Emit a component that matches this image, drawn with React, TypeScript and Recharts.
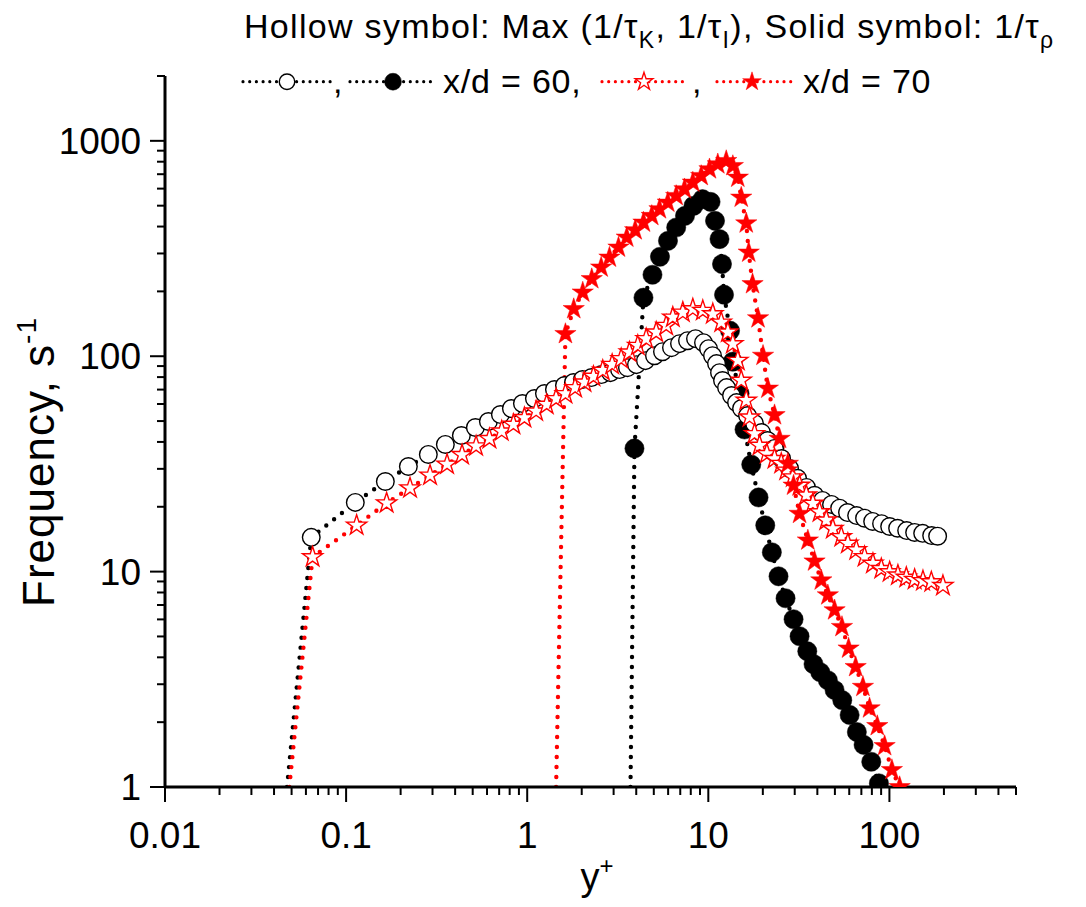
import React from 'react';
import { LineChart, Line, XAxis, YAxis } from 'recharts';

// ---- Data (y+ and frequency, s^-1) ----
// x/d = 60, hollow circles: Max(1/tauK, 1/tauI)
const x60MaxX = [0.0472, 0.0642, 0.1124, 0.1647, 0.2207, 0.2845, 0.3532, 0.433, 0.5174, 0.6105, 0.7112, 0.818, 0.941,
  1.096, 1.245, 1.414, 1.606, 1.8, 2.018, 2.263, 2.57, 2.883,
  3.232, 3.578, 4.012, 4.498, 5.045, 5.585, 6.262, 6.934, 7.676, 8.498, 9.408,
  10.03, 10.55, 11.1, 11.53, 11.98, 12.61, 13.43, 14.32, 15.26, 16.47, 18.0, 19.68,
  21.24, 23.21, 25.38, 28.1, 31.11, 34.86, 38.6, 42.7, 47.9, 53.1, 58.7, 65.9, 72.9, 80.8, 90.5,
  100.3, 111.0, 124.5, 137.8, 152.6, 171.1, 184.6];
const x60MaxY = [1, 14.42, 20.96, 26.21, 30.77, 34.99, 38.93, 42.85, 46.67, 49.76, 53.61, 57.17, 60.3,
  63.6, 67.07, 70.0, 73.07, 75.45, 77.9, 79.6, 82.2, 83.9,
  86.7, 88.5, 91.4, 95.4, 100.6, 105.0, 109.6, 114.4, 118.1, 120.7, 115.6,
  108.4, 100.6, 92.4, 83.9, 77.1, 71.5, 65.7, 60.9, 57.2, 53.0, 48.7, 44.2,
  40.6, 37.3, 33.5, 30.1, 27.1, 24.6, 22.6, 21.4, 20.5, 19.7, 18.8, 18.2, 17.7, 17.1, 16.7,
  16.2, 15.9, 15.5, 15.2, 15.05, 14.7, 14.6];

// x/d = 60, solid circles: 1/tau_rho
const x60RhoX = [3.718, 3.911, 4.385, 4.917, 5.409, 5.989, 6.648, 7.435, 8.284, 9.29,
  10.29, 10.89, 11.53, 11.9, 12.21, 13.18, 13.66, 14.88, 15.85, 17.26,
  18.94, 20.63, 22.43, 24.42, 26.7, 29.56, 31.91, 35.2, 38.1, 41.5,
  45.7, 49.8, 54.9, 60.3, 66.1, 72.0, 79.4, 87.5];
const x60RhoY = [1, 37.3, 187.0, 238.9, 289.6, 343.5, 395.9, 448.6, 499.1, 536.0,
  520.8, 425.3, 349.8, 267.9, 193.0, 131.4, 94.4, 67.1, 45.7, 31.4,
  22.1, 16.4, 12.29, 9.51, 7.52, 6.01, 5.01, 4.27, 3.72, 3.41,
  3.13, 2.82, 2.53, 2.16, 1.8, 1.57, 1.31, 1.04];

// x/d = 70, hollow stars: Max(1/tauK, 1/tauI)
const x70MaxX = [0.0486, 0.0653, 0.1143, 0.1674, 0.2254, 0.2907, 0.361, 0.4368, 0.5221, 0.6184, 0.7229, 0.8389, 0.9649,
  1.12, 1.281, 1.444, 1.626, 1.839, 2.07, 2.321, 2.613, 2.944,
  3.303, 3.67, 4.079, 4.539, 5.155, 5.854, 6.367, 7.231, 8.212, 9.325,
  10.59, 11.79, 12.82, 13.66, 14.55, 15.2, 16.2, 16.89, 18.0, 19.18,
  21.05, 23.21, 25.28, 26.94, 29.31, 31.91, 34.74, 37.79, 41.16, 44.82, 48.73, 54.25, 58.97, 65.64, 72.9, 81.1, 90.2,
  100.3, 111.4, 124.0, 137.8, 153.2, 170.4, 197.5];
const x70MaxY = [1, 11.69, 16.39, 20.8, 24.41, 27.96, 31.45, 34.87, 38.22, 41.37, 44.86, 48.18, 51.76,
  55.54, 59.66, 63.39, 66.86, 71.29, 75.68, 80.43, 85.77, 91.41,
  97.16, 104.3, 112.0, 120.3, 129.1, 138.7, 151.5, 159.7, 165.7, 162.7,
  157.1, 143.6, 129.1, 114.0, 95.4, 77.1, 62.3, 52.1, 43.6, 38.5,
  35.25, 33.4, 31.7, 29.5, 27.45, 25.1, 22.6, 20.7, 18.9, 17.3, 15.8, 14.5, 13.5, 12.6, 11.7, 10.9, 10.3,
  9.96, 9.61, 9.38, 9.18, 9.05, 8.95, 8.6];

// x/d = 70, solid stars: 1/tau_rho
const x70RhoX = [1.444, 1.626, 1.807, 2.026, 2.272, 2.561, 2.845, 3.191, 3.546, 3.946,
  4.385, 4.873, 5.375, 5.974, 6.648, 7.387, 8.212, 9.138, 10.15, 11.28,
  12.56, 13.66, 14.55, 15.2, 16.2, 16.72, 17.55, 18.82, 20.05, 21.32,
  23.21, 24.74, 27.5, 29.56, 31.91, 35.45, 38.6, 42.05, 45.7, 49.8,
  54.7, 59.5, 65.1, 71.4, 77.7, 85.7, 94.1, 103.2, 113.9];
const x70RhoY = [1, 126.9, 165.7, 197.8, 228.2, 258.4, 287.3, 319.8, 355.8, 385.0,
  417.7, 448.6, 481.8, 517.0, 555.3, 596.4, 640.3, 687.7, 738.6, 778.9,
  806.7, 764.8, 675.3, 545.4, 414.1, 303.1, 216.3, 150.2, 100.6, 70.8,
  53.3, 41.4, 31.7, 25.1, 18.57, 13.97, 11.16, 9.11, 7.77, 6.62,
  5.54, 4.4, 3.61, 2.92, 2.32, 1.92, 1.55, 1.2, 1.0];

// ---- Ticks ----
const xMajorTicks = [0.01, 0.1, 1, 10, 100];
const xTickLabels = ['0.01', '0.1', '1', '10', '100'];
const xMinorTicks = [0.02, 0.03, 0.04, 0.05, 0.06, 0.07, 0.08, 0.09,
  0.2, 0.3, 0.4, 0.5, 0.6, 0.7, 0.8, 0.9,
  2, 3, 4, 5, 6, 7, 8, 9,
  20, 30, 40, 50, 60, 70, 80, 90,
  200, 300, 400, 500];
const yMajorTicks = [1, 10, 100, 1000];
const yTickLabels = ['1', '10', '100', '1000'];
const yMinorTicks = [2, 3, 4, 5, 6, 7, 8, 9,
  20, 30, 40, 50, 60, 70, 80, 90,
  200, 300, 400, 500, 600, 700, 800, 900, 2000];

const xDomain = [0.01, 500];
const yDomain = [1, 2000];

const zip = (xs: number[], ys: number[]) => xs.map((x, i) => ({ x, v: ys[i] }));
const d60Max = zip(x60MaxX, x60MaxY);
const d60Rho = zip(x60RhoX, x60RhoY);
const d70Max = zip(x70MaxX, x70MaxY);
const d70Rho = zip(x70RhoX, x70RhoY);

const FONT = '"Liberation Sans", Arial, Helvetica, sans-serif';
const RED = '#ff0000';

const starPath = (cx: number, cy: number, R: number) => {
  const r = R * 0.382;
  let d = '';
  for (let i = 0; i < 10; i++) {
    const rad = i % 2 === 0 ? R : r;
    const a = -Math.PI / 2 + (i * Math.PI) / 5;
    const px = cx + rad * Math.cos(a);
    const py = cy + rad * Math.sin(a);
    d += (i === 0 ? 'M' : 'L') + px.toFixed(2) + ',' + py.toFixed(2);
  }
  return d + 'Z';
};

type Kind = 'hc' | 'sc' | 'hs' | 'ss';

const Marker = ({ kind, cx, cy, scale = 1 }: { kind: Kind; cx: number; cy: number; scale?: number }) => {
  if (kind === 'hc') return <circle cx={cx} cy={cy} r={8.8 * scale} fill="#fff" stroke="#000" strokeWidth={1.4} />;
  if (kind === 'sc') return <circle cx={cx} cy={cy} r={9.6 * scale} fill="#000" stroke="#000" strokeWidth={0.5} />;
  if (kind === 'hs') return <path d={starPath(cx, cy, 10.6 * scale)} fill="#fff" stroke={RED} strokeWidth={1.4} strokeLinejoin="miter" />;
  return <path d={starPath(cx, cy, 11.2 * scale)} fill={RED} stroke={RED} strokeWidth={0.5} />;
};

const makeDot = (kind: Kind) => (props: any) => {
  const { cx, cy, index } = props;
  if (index === 0 || cx == null || cy == null) return <g key={`${kind}-${index}`} />;
  return <g key={`${kind}-${index}`}><Marker kind={kind} cx={cx} cy={cy} /></g>;
};

const XTick = (props: any) => {
  const { x, y, payload } = props;
  const i = xMajorTicks.indexOf(payload.value);
  const major = i >= 0;
  return (
    <g>
      <line x1={x} y1={y} x2={x} y2={y + (major ? 15 : 8)} stroke="#000" strokeWidth={2} />
      {major && (
        <text x={x} y={y + 61} textAnchor="middle" fontSize={37} fontFamily={FONT} fill="#000">
          {xTickLabels[i]}
        </text>
      )}
    </g>
  );
};

const YTick = (props: any) => {
  const { x, y, payload } = props;
  const i = yMajorTicks.indexOf(payload.value);
  const major = i >= 0;
  return (
    <g>
      <line x1={x} y1={y} x2={x - (major ? 15 : 8)} y2={y} stroke="#000" strokeWidth={2} />
      {major && (
        <text x={x - 24} y={y + 13} textAnchor="end" fontSize={37} fontFamily={FONT} fill="#000">
          {yTickLabels[i]}
        </text>
      )}
    </g>
  );
};

const W = 1070;
const H = 891;

const dotted = (color: string, w: number, gap: number) => ({
  stroke: color,
  strokeWidth: w,
  strokeDasharray: `0 ${gap}`,
  strokeLinecap: 'round' as const,
});

const LegendItem = ({ x1, x2, cx, cy, kind, color }: { x1: number; x2: number; cx: number; cy: number; kind: Kind; color: string }) => (
  <g>
    <line x1={x1} y1={cy} x2={x2} y2={cy} {...dotted(color, 3.2, 6.7)} />
    <Marker kind={kind} cx={cx} cy={cy} scale={0.88} />
  </g>
);

export default function App() {
  const ticksX = [...xMajorTicks, ...xMinorTicks].sort((a, b) => a - b);
  const ticksY = [...yMajorTicks, ...yMinorTicks].sort((a, b) => a - b);
  return (
    <div style={{ position: 'relative', width: W, height: H, background: '#fff' }}>
      <LineChart width={W} height={H} margin={{ top: 68, right: 62, bottom: 52, left: 97 }}>
        <XAxis
          dataKey="x"
          type="number"
          scale="log"
          domain={xDomain}
          allowDataOverflow
          ticks={ticksX}
          interval={0}
          tickSize={0}
          tickMargin={0}
          tickLine={false}
          tick={<XTick />}
          height={60}
          axisLine={{ stroke: '#000', strokeWidth: 3 }}
        />
        <YAxis
          type="number"
          scale="log"
          domain={yDomain}
          allowDataOverflow
          ticks={ticksY}
          interval={0}
          tickSize={0}
          tickMargin={0}
          tickLine={false}
          tick={<YTick />}
          width={60}
          axisLine={{ stroke: '#000', strokeWidth: 3 }}
        />
        <Line data={d60Rho} dataKey="v" type="linear" isAnimationActive={false} {...dotted('#000', 4.4, 10)} dot={makeDot('sc')} activeDot={false} />
        <Line data={d60Max} dataKey="v" type="linear" isAnimationActive={false} {...dotted('#000', 4.4, 10)} dot={makeDot('hc')} activeDot={false} />
        <Line data={d70Max} dataKey="v" type="linear" isAnimationActive={false} {...dotted(RED, 4.4, 10)} dot={makeDot('hs')} activeDot={false} />
        <Line data={d70Rho} dataKey="v" type="linear" isAnimationActive={false} {...dotted(RED, 4.4, 10)} dot={makeDot('ss')} activeDot={false} />
      </LineChart>
      <svg width={W} height={H} style={{ position: 'absolute', left: 0, top: 0, pointerEvents: 'none' }}>
        <text x={236} y={30} fontSize={34} letterSpacing={1.3} fontFamily={FONT} fill="#000">
          Hollow symbol: Max (1/τ
          <tspan fontSize={23} dy={10}>K</tspan>
          <tspan dy={-10}>, 1/τ</tspan>
          <tspan fontSize={23} dy={10}>I</tspan>
          <tspan dy={-10}>), Solid symbol: 1/τ</tspan>
          <tspan fontSize={23} dy={10}>ρ</tspan>
        </text>
        <LegendItem x1={235} x2={323} cx={279} cy={73.7} kind="hc" color="#000" />
        <text x={325} y={85.3} fontSize={34} fontFamily={FONT}>,</text>
        <LegendItem x1={342} x2={425} cx={385} cy={73.7} kind="sc" color="#000" />
        <text x={435} y={85.3} fontSize={34} letterSpacing={0.8} fontFamily={FONT}>x/d = 60,</text>
        <LegendItem x1={594} x2={678} cx={636} cy={73.7} kind="hs" color={RED} />
        <text x={684} y={85.3} fontSize={34} fontFamily={FONT}>,</text>
        <LegendItem x1={709} x2={785} cx={744} cy={73.7} kind="ss" color={RED} />
        <text x={795} y={85.3} fontSize={34} letterSpacing={0.8} fontFamily={FONT}>x/d = 70</text>
        <text
          x={46}
          y={454}
          transform="rotate(-90 46 454)"
          textAnchor="middle"
          fontSize={44}
          letterSpacing={1}
          fontFamily={FONT}
          fill="#000"
        >
          Frequency, s<tspan fontSize={28} dy={-18}>-1</tspan>
        </text>
        <text x={589} y={882} textAnchor="middle" fontSize={38} fontFamily={FONT} fill="#000">
          y<tspan fontSize={24} dy={-16}>+</tspan>
        </text>
      </svg>
    </div>
  );
}
